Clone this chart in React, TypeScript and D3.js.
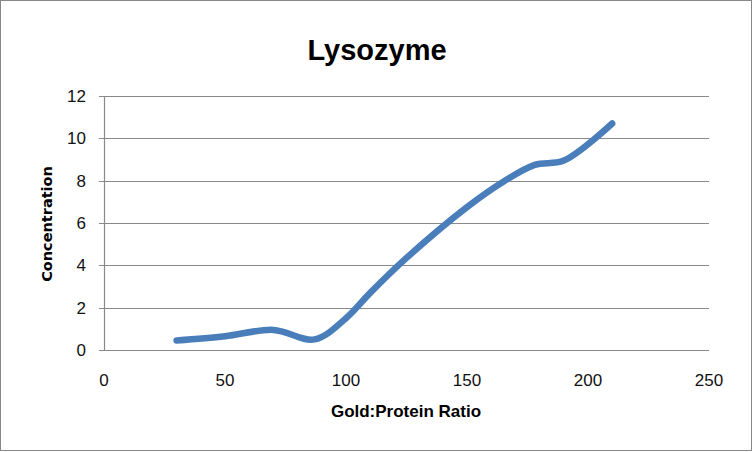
import React from "react";
import * as d3 from "d3";

const ratios = [30, 50, 70, 87, 100, 110, 125, 150, 165, 178, 190, 210];
const concentrations = [0.45, 0.65, 0.95, 0.5, 1.5, 2.7, 4.35, 6.75, 7.95, 8.75, 8.95, 10.7];
const xTicks = [0, 50, 100, 150, 200, 250];
const yTicks = [0, 2, 4, 6, 8, 10, 12];
const title = "Lysozyme";
const xLabel = "Gold:Protein Ratio";
const yLabel = "Concentration";

const W = 753, H = 452;
const left = 104, right = 709, top = 96, bottom = 350;

export default function App() {
  const x = d3.scaleLinear().domain([0, 250]).range([left, right]);
  const y = d3.scaleLinear().domain([0, 12]).range([bottom, top]);
  const data = ratios.map((r, i) => [r, concentrations[i]] as [number, number]);
  const line = d3.line<[number, number]>()
    .x(d => x(d[0])).y(d => y(d[1]))
    .curve(d3.curveCatmullRom.alpha(0.5));
  const font = "'Liberation Sans', Arial, sans-serif";
  return (
    <div style={{ position: "fixed", left: 0, top: 0 }}>
      <svg width={W} height={H} style={{ display: "block", background: "#fff" }}>
        <rect x={0.5} y={0.5} width={W - 2} height={H - 2} fill="#fff" stroke="#878787" strokeWidth={1} />
        <text x={377} y={60} textAnchor="middle" fontFamily={font} fontWeight="bold" fontSize={29} fill="#000">{title}</text>
        {yTicks.map(t => (
          <g key={t}>
            <line x1={left - 5} x2={right} y1={Math.round(y(t)) + 0.5} y2={Math.round(y(t)) + 0.5} stroke="#898989" strokeWidth={1.2} />
            <text x={86} y={y(t) + 6} textAnchor="end" fontFamily={font} fontSize={17} fill="#111">{t}</text>
          </g>
        ))}
        <line x1={left + 0.5} x2={left + 0.5} y1={top} y2={bottom} stroke="#898989" strokeWidth={1.2} />
        {xTicks.map(t => (
          <text key={t} x={x(t)} y={386} textAnchor="middle" fontFamily={font} fontSize={17} fill="#111">{t}</text>
        ))}
        <path d={line(data) || ""} fill="none" stroke="#4A7EBB" strokeWidth={6.5} strokeLinecap="round" strokeLinejoin="round" />
        <text x={406} y={417} textAnchor="middle" fontFamily={font} fontWeight="bold" fontSize={17} fill="#000">{xLabel}</text>
        <text transform={`translate(52,224) rotate(-90)`} textAnchor="middle" fontFamily="'DejaVu Sans', Verdana, sans-serif" fontWeight="bold" fontSize={14.5} fill="#000">{yLabel}</text>
      </svg>
    </div>
  );
}
